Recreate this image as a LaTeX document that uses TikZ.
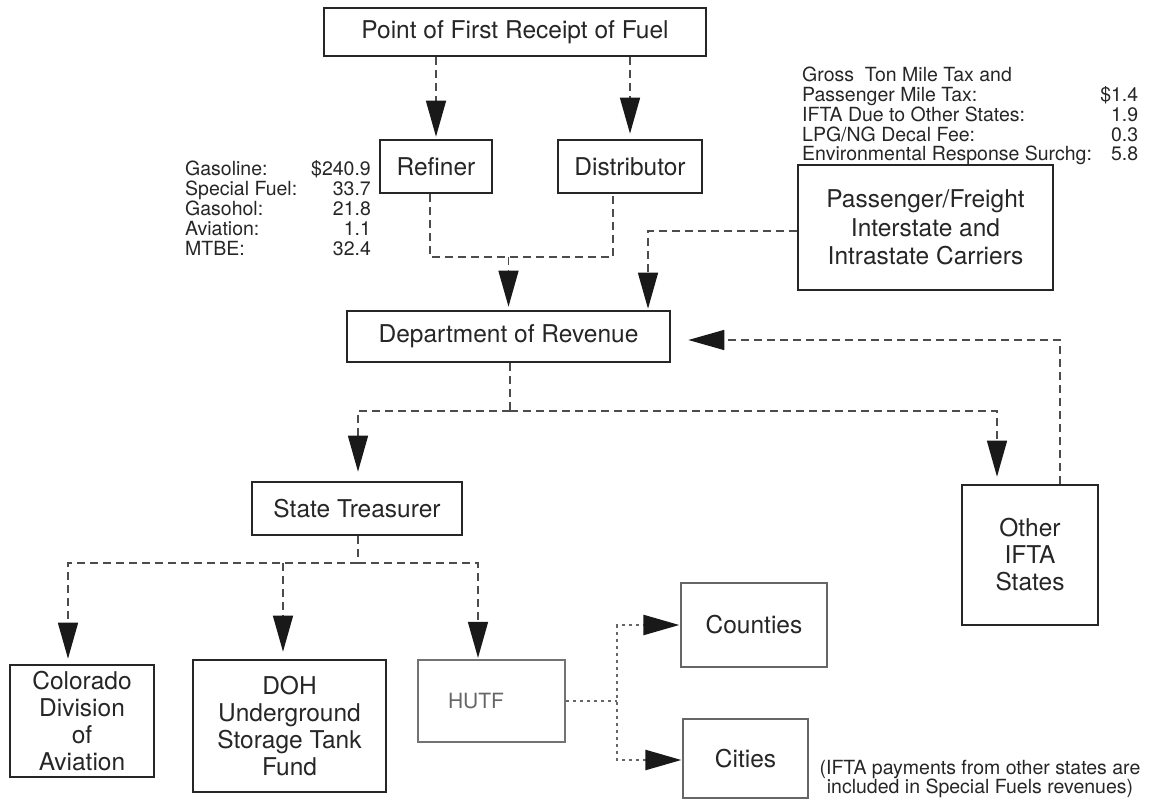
\documentclass[tikz,border=0pt]{standalone}
\usepackage{fontspec}
\setmainfont{TeX Gyre Heros}
\usetikzlibrary{arrows.meta,calc}
\tikzset{
  box/.style={draw=black!85, line width=2.6pt, inner sep=0pt, align=center, text=black!85, font=\fontsize{24.5}{27}\selectfont},
  lightbox/.style={draw=black!60, line width=1.3pt, inner sep=0pt, align=center, text=black!85, font=\fontsize{24.5}{27}\selectfont},
  dline/.style={draw=black!70, line width=1.4pt, dash pattern=on 8pt off 5pt},
  dotline/.style={draw=black!60, line width=2.4pt, dash pattern=on 2.5pt off 4.5pt},
  arr/.style={-{Triangle[length=36pt,width=20pt,color=black!90]}},
  small/.style={inner sep=0pt, text=black!85, font=\fontsize{19.5}{18.7}\selectfont}
}
\begin{document}
\begin{tikzpicture}[x=1pt,y=-1pt]
\useasboundingbox (0,0) rectangle (1154,810);
% boxes
\node[box, minimum width=382, minimum height=48] (point) at (515,32) {Point of First Receipt of Fuel};
\node[box, minimum width=112, minimum height=53] (refiner) at (436,166.5) {Refiner};
\node[box, minimum width=144, minimum height=53] (distributor) at (630,166.5) {Distributor};
\node[box, minimum width=323, minimum height=51] (dept) at (508.5,336.5) {Department of Revenue};
\node[box, minimum width=255, minimum height=125, font=\fontsize{24.5}{28.5}\selectfont] (pass) at (925.5,227.5) {Passenger/Freight\\Interstate and\\Intrastate Carriers};
\node[box, minimum width=210, minimum height=53] (treas) at (357,508.5) {State Treasurer};
\node[box, minimum width=136, minimum height=140] (other) at (1030,555) {Other\\IFTA\\States};
\node[box, minimum width=144, minimum height=112] (colorado) at (82,721) {Colorado\\Division\\of\\Aviation};
\node[box, minimum width=193, minimum height=132] (doh) at (289.5,726) {DOH\\Underground\\Storage Tank\\Fund};
\node[box, draw=black!55, line width=2.2pt, minimum height=82, text width=87, inner xsep=30, align=left, text=black!60, font=\fontsize{21}{24}\selectfont] (hutf) at (491.5,701) {HUTF};
\node[lightbox, minimum width=146, minimum height=84] (counties) at (754,625) {Counties};
\node[lightbox, minimum width=125, minimum height=79] (cities) at (745.5,758.5) {Cities};
% text blocks
\node[small, anchor=north west] (fuels) at (185,160) {\begin{tabular}{@{}l@{\hspace{14pt}}r@{}}Gasoline: & \$240.9\\ Special Fuel: & 33.7\\ Gasohol: & 21.8\\ Aviation: & 1.1\\ MTBE: & 32.4\end{tabular}};
\node[small, anchor=north west, font=\fontsize{19.5}{17}\selectfont] (taxes) at (802,67) {\begin{tabular*}{336pt}{@{}l@{\extracolsep{\fill}}r@{}}Gross~ Ton Mile Tax and & \\ Passenger Mile Tax: & \$1.4\\ IFTA Due to Other States: & 1.9\\ LPG/NG Decal Fee: & 0.3\\ Environmental Response Surchg: & 5.8\end{tabular*}};
\node[small, align=center, font=\fontsize{19.5}{17}\selectfont] (note) at (980,779) {(IFTA payments from other states are\\included in Special Fuels revenues)};
% coordinates
\coordinate (j1) at (508.5,257);
\coordinate (rL) at (430,257);
\coordinate (dR) at (613,257);
\coordinate (pL) at (648,231);
\coordinate (oT) at (1060,340);
\coordinate (j2) at (510,411);
\coordinate (tL) at (358,411);
\coordinate (tR) at (997,411);
\coordinate (j3) at (358,563);
\coordinate (cL) at (68,563);
\coordinate (dM) at (283,563);
\coordinate (hR) at (478,563);
\coordinate (v1) at (617,625);
\coordinate (v2) at (617,760);
% connectors
\draw[dline,arr,shorten >=2pt] (point.south -| refiner.north) -- (refiner.north);
\draw[dline,arr,shorten >=5pt] (point.south -| distributor.north) -- (distributor.north);
\draw[dline] (refiner.south -| rL) -- (rL) -- (dR) -- (distributor.south -| dR);
\draw[dline,arr,shorten >=3pt] (j1) -- (dept.north -| j1);
\draw[dline,arr,shorten >=1pt] (pass.west |- pL) -- (pL) -- (dept.north -| pL);
\draw[dline,arr,shorten >=17pt] (other.north -| oT) -- (oT) -- (dept.east |- oT);
\draw[dline] (dept.south -| j2) -- (j2);
\draw[dline,arr,shorten >=9pt] (j2) -- (tL) -- (treas.north -| tL);
\draw[dline,arr,shorten >=7pt] (j2) -- (tR) -- (other.north -| tR);
\draw[dline] (treas.south -| j3) -- (j3);
\draw[dline,arr,shorten >=5pt] (j3) -- (cL) -- (colorado.north -| cL);
\draw[dline,arr,shorten >=7pt] (dM) -- (doh.north -| dM);
\draw[dline,arr,shorten >=1pt] (j3) -- (hR) -- (hutf.north -| hR);
\draw[dotline] (hutf.east) -- (hutf.east -| v1);
\draw[dotline,arr,shorten >=1pt] (v2) -- (v1) -- (counties.west |- v1);
\draw[dotline,arr,shorten >=1pt] (v1) -- (v2) -- (cities.west |- v2);
\end{tikzpicture}
\end{document}
